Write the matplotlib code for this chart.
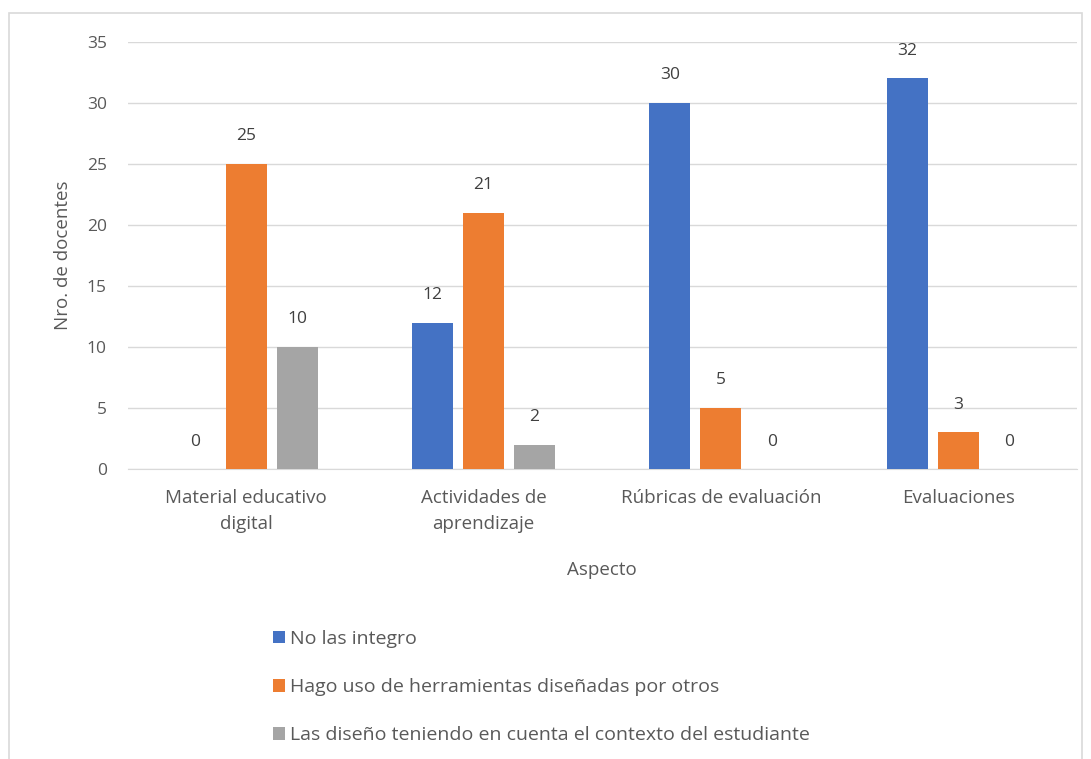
import numpy as np
import matplotlib.pyplot as plt
from matplotlib.patches import Rectangle

plt.rcParams['font.family'] = ['Open Sans', 'DejaVu Sans']

categorias = ['Material educativo\ndigital', 'Actividades de\naprendizaje',
              'Rúbricas de evaluación', 'Evaluaciones']
no_integro = [0, 12, 30, 32]
otros = [25, 21, 5, 3]
diseno = [10, 2, 0, 0]
series = ['No las integro', 'Hago uso de herramientas diseñadas por otros',
          'Las diseño teniendo en cuenta el contexto del estudiante']
colores = ['#4472C4', '#ED7D31', '#A5A5A5']
txt = '#595959'

fig = plt.figure(figsize=(10.91, 7.59), dpi=100)
ax = fig.add_axes([0.117, 0.382, 0.870, 0.563])

x = np.arange(len(categorias))
w = 0.173
off = 0.215
handles = []
for i, (vals, col, lab) in enumerate(zip([no_integro, otros, diseno], colores, series)):
    bars = ax.bar(x + (i - 1) * off, vals, w, color=col, label=lab, zorder=3)
    handles.append(bars)
    for b, v in zip(bars, vals):
        ax.text(b.get_x() + b.get_width() / 2, v + 1.6, str(v), ha='center', va='bottom',
                fontsize=12.5, color='#404040')

ax.set_xlim(-0.5, 3.5)
ax.set_ylim(0, 35)
ax.set_yticks(range(0, 36, 5))
ax.grid(axis='y', color='#D9D9D9', linewidth=1, zorder=0)
for s in ['top', 'right', 'left']:
    ax.spines[s].set_visible(False)
ax.spines['bottom'].set_color('#D9D9D9')
ax.tick_params(axis='y', length=0, colors=txt, labelsize=12.5, pad=15)
ax.tick_params(axis='x', length=0, colors=txt, labelsize=13.5, pad=14)
ax.set_xticks(x)
ax.set_xticklabels(categorias, linespacing=1.6)
ax.set_ylabel('Nro. de docentes', fontsize=13.5, color=txt, labelpad=11)
ax.set_xlabel('Aspecto', fontsize=13.5, color=txt, labelpad=20)

fig.legend(handles=handles, labels=series, loc='upper left', bbox_to_anchor=(0.243, 0.180),
           frameon=False, fontsize=14, labelcolor=txt, handlelength=0.6, handleheight=0.6,
           handletextpad=0.3, labelspacing=1.55, borderaxespad=0)

fig.patches.append(Rectangle((0.008, -0.01), 0.984, 0.993, transform=fig.transFigure,
                             fill=False, edgecolor='#D9D9D9', linewidth=1.2))

plt.savefig('out.png', dpi=100)
